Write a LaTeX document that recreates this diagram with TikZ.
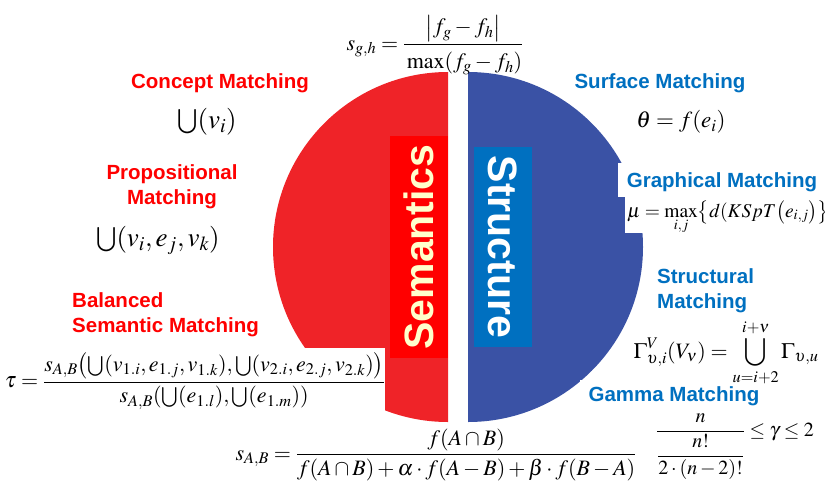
\documentclass[tikz,border=0pt]{standalone}
\usepackage{mathptmx}
\usepackage{amsmath}
\usepackage{fontspec}
\setmainfont{Liberation Serif}
\newfontfamily\labelfont{Liberation Sans}

\begin{document}
\begin{tikzpicture}[x=1pt, y=-1pt,
    semLabel/.style={text=semText, font=\labelfont\bfseries\fontsize{20.5}{25}\selectfont, inner sep=0pt},
    strLabel/.style={text=strText, font=\labelfont\bfseries\fontsize{20.5}{25}\selectfont, inner sep=0pt},
    banner/.style={inner sep=0pt, font=\labelfont\bfseries\fontsize{41}{45}\selectfont},
    formula/.style={inner sep=0pt, font=\fontsize{22}{26}\selectfont}]
    % Define colours
    \definecolor{circleRed}{HTML}{EF2328}
    \definecolor{circleBlue}{HTML}{3A52A5}
    \definecolor{boxRed}{HTML}{FF0000}
    \definecolor{boxBlue}{HTML}{0070C0}
    \definecolor{bannerText}{HTML}{FFFFCC}
    \definecolor{semText}{HTML}{FF0000}
    \definecolor{strText}{HTML}{0070C0}

    % Define disc size
    \def\discRadius{175}

    \useasboundingbox (0,0) rectangle (825,483);

    % Draw the two half discs
    \begin{scope}
        \clip (0,0) rectangle (448,483);
        \fill[circleRed] (448,247) circle[radius=\discRadius];
    \end{scope}
    \begin{scope}
        \clip (468,0) rectangle (825,483);
        \fill[circleBlue] (468,247) circle[radius=\discRadius];
    \end{scope}

    % White backing of the formulas
    \fill[white] (0,348) rectangle (385,430);
    \fill[white] (618,163) rectangle (825,197);
    \fill[white] (625,197) rectangle (825,233);
    \fill[white] (580,380) rectangle (825,483);

    % Draw the banners
    \node (semBanner) [banner, fill=boxRed, text=bannerText, rotate=90,
        minimum width=222, minimum height=58] at (419,247) {Semantics};
    \node (strBanner) [banner, fill=boxBlue, text=white, rotate=-90,
        minimum width=200, minimum height=58] at (503,247) {Structure};

    % Semantic side
    \node (concept) [semLabel] at (220,83) {Concept Matching};
    \node (conceptF) [formula, font=\fontsize{27}{30}\selectfont] at (207,122) {$\bigcup(v_i)$};
    \node (prop) [semLabel, align=center] at (172,187) {Propositional\\Matching};
    \node (propF) [formula, font=\fontsize{27}{30}\selectfont] at (158,240) {$\bigcup(v_i,e_j,v_k)$};
    \node (balanced) [semLabel, align=left, anchor=west] at (72,315) {Balanced\\Semantic Matching};
    \node (balancedF) [formula] at (195,381)
        {$\tau=\dfrac{s_{A,B}\bigl(\bigcup(v_{1.i},e_{1.j},v_{1.k}),\bigcup(v_{2.i},e_{2.j},v_{2.k})\bigr)}{s_{A,B}(\bigcup(e_{1.l}),\bigcup(e_{1.m}))}$};
    \node (simF) [formula] at (436,455)
        {$s_{A,B}=\dfrac{f(A\cap B)}{f(A\cap B)+\alpha\cdot f(A-B)+\beta\cdot f(B-A)}$};
    \node (distF) [formula, anchor=base] at (435,50)
        {$s_{g,h}=\dfrac{\left|\rule[-7pt]{0pt}{27pt}f_g-f_h\right|}{\rule{0pt}{21pt}\max(f_g-f_h)}$};

    % Structural side
    \node (surface) [strLabel] at (660,83) {Surface Matching};
    \node (surfaceF) [formula, font=\fontsize{23}{27}\selectfont] at (681,122) {$\theta=f(e_i)$};
    \node (graph) [strLabel] at (722,182) {Graphical Matching};
    \node (graphF) [formula, font=\fontsize{19.5}{24}\selectfont, anchor=base west] at (627,217)
        {$\mu=\max\limits_{i,j}\bigl\{d(KSpT\bigl(e_{i,j}\bigr)\bigr\}$};
    \node (struct) [strLabel, align=left, anchor=west] at (657,291) {Structural\\Matching};
    \node (structF) [formula] at (726,353)
        {$\displaystyle\Gamma^{V}_{\upsilon,i}(V_\nu)=\bigcup_{u=i+2}^{i+\nu}\Gamma_{\upsilon,u}$};
    \node (gamma) [strLabel] at (674,396) {Gamma Matching};
    \node (gammaF) [formula, font=\fontsize{20}{24}\selectfont] at (735,447)
        {$\dfrac{n}{\dfrac{n!}{2\cdot(n-2)!}}\le\gamma\le 2$};

\end{tikzpicture}
\end{document}
